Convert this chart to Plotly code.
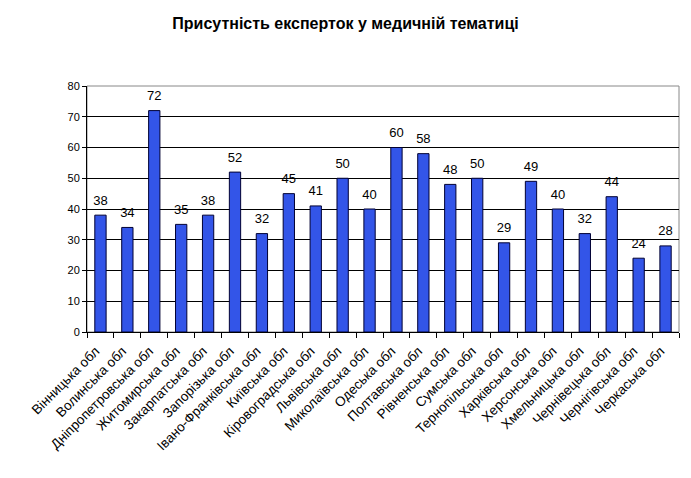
import plotly.graph_objects as go

categories = ["Вінницька обл", "Волинська обл", "Дніпропетровська обл", "Житомирська обл",
              "Закарпатська обл", "Запорізька обл", "Івано-Франківська обл", "Київська обл",
              "Кіровоградська обл", "Львівська обл", "Миколаївська обл", "Одеська обл",
              "Полтавська обл", "Рівненська обл", "Сумська обл", "Тернопільська обл",
              "Харківська обл", "Херсонська обл", "Хмельницька обл", "Чернівецька обл",
              "Чернігівська обл", "Черкаська обл"]
values = [38, 34, 72, 35, 38, 52, 32, 45, 41, 50, 40, 60, 58, 48, 50, 29, 49, 40, 32, 44, 24, 28]
title = "Присутність експерток у медичній тематиці"

fig = go.Figure(go.Bar(
    x=categories, y=values,
    marker=dict(color="#3355E8", line=dict(color="#000033", width=1)),
    cliponaxis=False,
))

fig.add_trace(go.Scatter(
    x=categories, y=values, mode="markers+text", text=[str(v) for v in values],
    marker=dict(size=10, color="rgba(0,0,0,0)"),
    textposition="top center", cliponaxis=False, hoverinfo="skip",
    textfont=dict(family="Liberation Sans, Arial", size=13, color="black"),
))

fig.update_layout(
    width=691, height=478,
    margin=dict(l=87, r=12, t=86, b=146),
    paper_bgcolor="white", plot_bgcolor="white",
    bargap=0.58,
    showlegend=False,
    font=dict(family="Liberation Sans, Arial", color="black"),
    title=dict(text="<b>" + title + "</b>", x=0.5, xanchor="center", y=0.952, yanchor="middle",
               font=dict(size=16, family="Liberation Sans, Arial", color="black")),
    xaxis=dict(type="category", range=[-0.5, len(categories) - 0.5], tickangle=-45,
               tickson="boundaries", ticks="outside",
               ticklen=5, tickcolor="black", showline=True, linecolor="black", linewidth=1,
               showgrid=False, tickfont=dict(size=13.5), ticklabelstandoff=5,
               ticklabelshift=-5),
    yaxis=dict(range=[0, 80], dtick=10, ticks="outside", ticklen=4, tickcolor="black",
               showline=True, linecolor="black", linewidth=1, showgrid=True,
               gridcolor="black", gridwidth=1, zeroline=False, tickfont=dict(size=11)),
    shapes=[dict(type="rect", xref="paper", yref="paper", x0=0, y0=0, x1=1, y1=1,
                 line=dict(color="#888888", width=1), layer="below")],
)

fig.write_html("out.html")
